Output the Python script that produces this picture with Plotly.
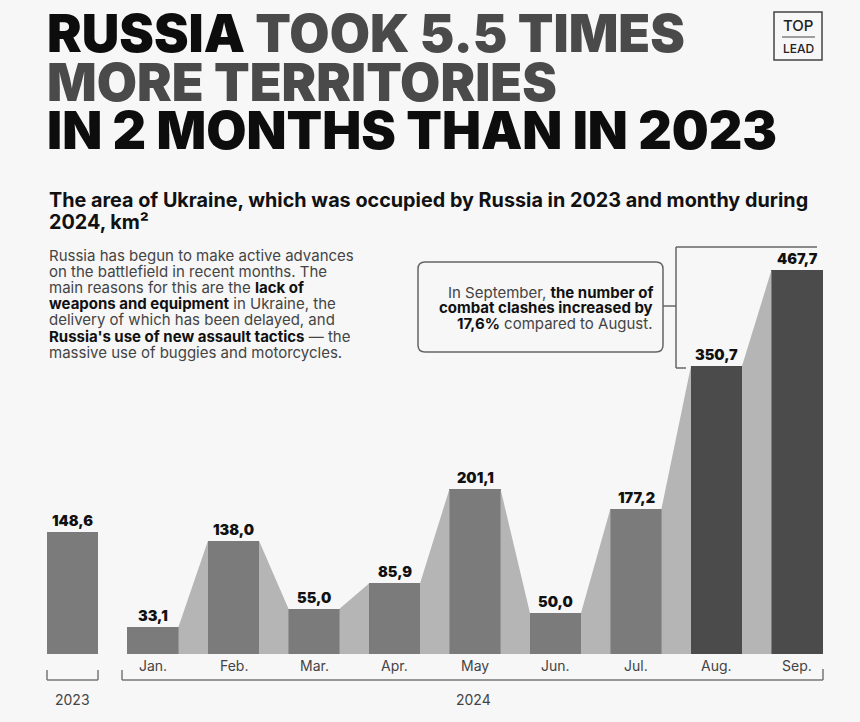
import plotly.graph_objects as go

# ---------------- data ----------------
categories = ["2023", "Jan.", "Feb.", "Mar.", "Apr.", "May", "Jun.", "Jul.", "Aug.", "Sep."]
values = [148.6, 33.1, 138.0, 55.0, 85.9, 201.1, 50.0, 177.2, 350.7, 467.7]
highlight = [False, False, False, False, False, False, False, False, True, True]
group_labels = ["2023", "2024"]

title_lines = [
    "RUSSIA <span style='color:#4a4a4a'>TOOK 5.5 TIMES</span>",
    "<span style='color:#4a4a4a'>MORE TERRITORIES</span>",
    "IN 2 MONTHS THAN IN 2023",
]
subtitle_lines = [
    "The area of Ukraine, which was occupied by Russia in 2023 and monthy during",
    "2024, km²",
]
para_lines = [
    "Russia has begun to make active advances",
    "on the battlefield in recent months. The",
    "main reasons for this are the <b style='color:#111'>lack of</b>",
    "<b style='color:#111'>weapons and equipment</b> in Ukraine, the",
    "delivery of which has been delayed, and",
    "<b style='color:#111'>Russia's use of new assault tactics</b> — the",
    "massive use of buggies and motorcycles.",
]
box_lines = [
    "In September, <b style='color:#111'>the number of</b>",
    "<b style='color:#111'>combat clashes increased by</b>",
    "<b style='color:#111'>17,6%</b> compared to August.",
]

# ---------------- layout helpers ----------------
W, H = 860, 722
BASE_PX = 654          # pixel row of value 0
PX_PER_UNIT = 0.821    # vertical scale
X0_PX, STEP_PX = 72.5, 80.5
BAR_W = 0.634
BG = "#f7f7f7"
FONT = "Inter"

def X(px):
    return px / W

def Y(py):
    return 1 - py / H

x_idx = list(range(len(categories)))
bar_colors = ["#4b4b4b" if h else "#7b7b7b" for h in highlight]

fig = go.Figure()

# connector polygons between consecutive 2024 months
cx, cy = [], []
for i in range(1, len(values) - 1):
    a, b = x_idx[i], x_idx[i + 1]
    cx += [a + BAR_W / 2, a + BAR_W / 2, b - BAR_W / 2, b - BAR_W / 2, a + BAR_W / 2, None]
    cy += [0, values[i], values[i + 1], 0, 0, None]
fig.add_trace(go.Scatter(x=cx, y=cy, mode="lines", fill="toself", fillcolor="#b5b5b5",
                         line=dict(width=0), hoverinfo="skip", showlegend=False))

fig.add_trace(go.Bar(x=x_idx, y=values, width=BAR_W, marker=dict(color=bar_colors, line=dict(width=0)),
                     showlegend=False, hoverinfo="skip"))

annotations = []
# value labels
for i, v in zip(x_idx, values):
    annotations.append(dict(x=i, y=v, xref="x", yref="y", text=f"{v:.1f}".replace(".", ","),
                            showarrow=False, yanchor="bottom", yshift=1,
                            font=dict(family=FONT, size=14.5, color="#111", weight=900)))
# month labels
for i, c in zip(x_idx, categories):
    if i == 0:
        continue
    annotations.append(dict(x=i, y=Y(665), xref="x", yref="paper", text=c, showarrow=False,
                            yanchor="middle", font=dict(family=FONT, size=14, color="#444")))
# group labels
annotations.append(dict(x=0, y=Y(699), xref="x", yref="paper", text=group_labels[0], showarrow=False,
                        yanchor="middle", font=dict(family=FONT, size=14, color="#444")))
annotations.append(dict(x=X(474), y=Y(699), xref="paper", yref="paper", text=group_labels[1], showarrow=False,
                        xanchor="center", yanchor="middle", font=dict(family=FONT, size=14, color="#444")))

# title
for k, (line, py) in enumerate(zip(title_lines, [33, 82, 130])):
    annotations.append(dict(x=X(45), y=Y(py), xref="paper", yref="paper", text=line, showarrow=False,
                            xanchor="left", yanchor="middle",
                            font=dict(family=FONT, size=52, color="#0d0d0d", weight=900)))
# subtitle
for k, line in enumerate(subtitle_lines):
    annotations.append(dict(x=X(47), y=Y(200 + k * 21.5), xref="paper", yref="paper", text="<b>" + line + "</b>",
                            showarrow=False, xanchor="left", yanchor="middle",
                            font=dict(family=FONT, size=19.8, color="#111")))
# paragraph
for k, line in enumerate(para_lines):
    annotations.append(dict(x=X(47), y=Y(255 + k * 16.2), xref="paper", yref="paper", text=line,
                            showarrow=False, xanchor="left", yanchor="middle",
                            font=dict(family=FONT, size=15, color="#444")))
# box text
for k, line in enumerate(box_lines):
    annotations.append(dict(x=X(655), y=Y(292 + k * 15.5), xref="paper", yref="paper", text=line,
                            showarrow=False, xanchor="right", yanchor="middle",
                            font=dict(family=FONT, size=15, color="#444")))
# logo
annotations.append(dict(x=X(798), y=Y(25), xref="paper", yref="paper", text="TOP", showarrow=False,
                        xanchor="center", yanchor="middle",
                        font=dict(family=FONT, size=15, color="#222", weight=500)))
annotations.append(dict(x=X(798), y=Y(48), xref="paper", yref="paper", text="LEAD", showarrow=False,
                        xanchor="center", yanchor="middle",
                        font=dict(family=FONT, size=12, color="#222", weight=500)))

shapes = []

def seg(x0, y0, x1, y1, color="#777", width=1.5):
    shapes.append(dict(type="line", xref="paper", yref="paper", x0=X(x0), y0=Y(y0), x1=X(x1), y1=Y(y1),
                       line=dict(color=color, width=width)))

# year brackets
seg(47, 670, 47, 680); seg(47, 680, 98, 680); seg(98, 680, 98, 670)
seg(122, 670, 122, 680); seg(122, 680, 823, 680); seg(823, 680, 823, 669)
# callout bracket
seg(676, 247, 676, 368, "#666"); seg(676, 247, 817, 247, "#666"); seg(676, 368, 686, 368, "#666")
seg(663, 306, 676, 306, "#666")
# logo
shapes.append(dict(type="rect", xref="paper", yref="paper", x0=X(774), y0=Y(12), x1=X(822), y1=Y(60),
                   line=dict(color="#444", width=1.5)))
seg(782, 37, 815, 37, "#444", 1)

# rounded box
x0, x1, y0, y1, r = 418, 663, 262, 352, 7
p = (f"M {X(x0 + r)},{Y(y0)} L {X(x1 - r)},{Y(y0)} Q {X(x1)},{Y(y0)} {X(x1)},{Y(y0 + r)} "
     f"L {X(x1)},{Y(y1 - r)} Q {X(x1)},{Y(y1)} {X(x1 - r)},{Y(y1)} "
     f"L {X(x0 + r)},{Y(y1)} Q {X(x0)},{Y(y1)} {X(x0)},{Y(y1 - r)} "
     f"L {X(x0)},{Y(y0 + r)} Q {X(x0)},{Y(y0)} {X(x0 + r)},{Y(y0)} Z")
shapes.append(dict(type="path", xref="paper", yref="paper", path=p, line=dict(color="#666", width=1.5)))

x_lo = -X0_PX / STEP_PX
x_hi = x_lo + W / STEP_PX
y_lo = -(H - BASE_PX) / PX_PER_UNIT
y_hi = BASE_PX / PX_PER_UNIT

fig.update_layout(
    width=W, height=H, margin=dict(l=0, r=0, t=0, b=0),
    paper_bgcolor=BG, plot_bgcolor=BG,
    xaxis=dict(range=[x_lo, x_hi], visible=False, fixedrange=True),
    yaxis=dict(range=[y_lo, y_hi], visible=False, fixedrange=True),
    annotations=annotations, shapes=shapes, bargap=0, showlegend=False,
)

fig.write_html("out.html")
